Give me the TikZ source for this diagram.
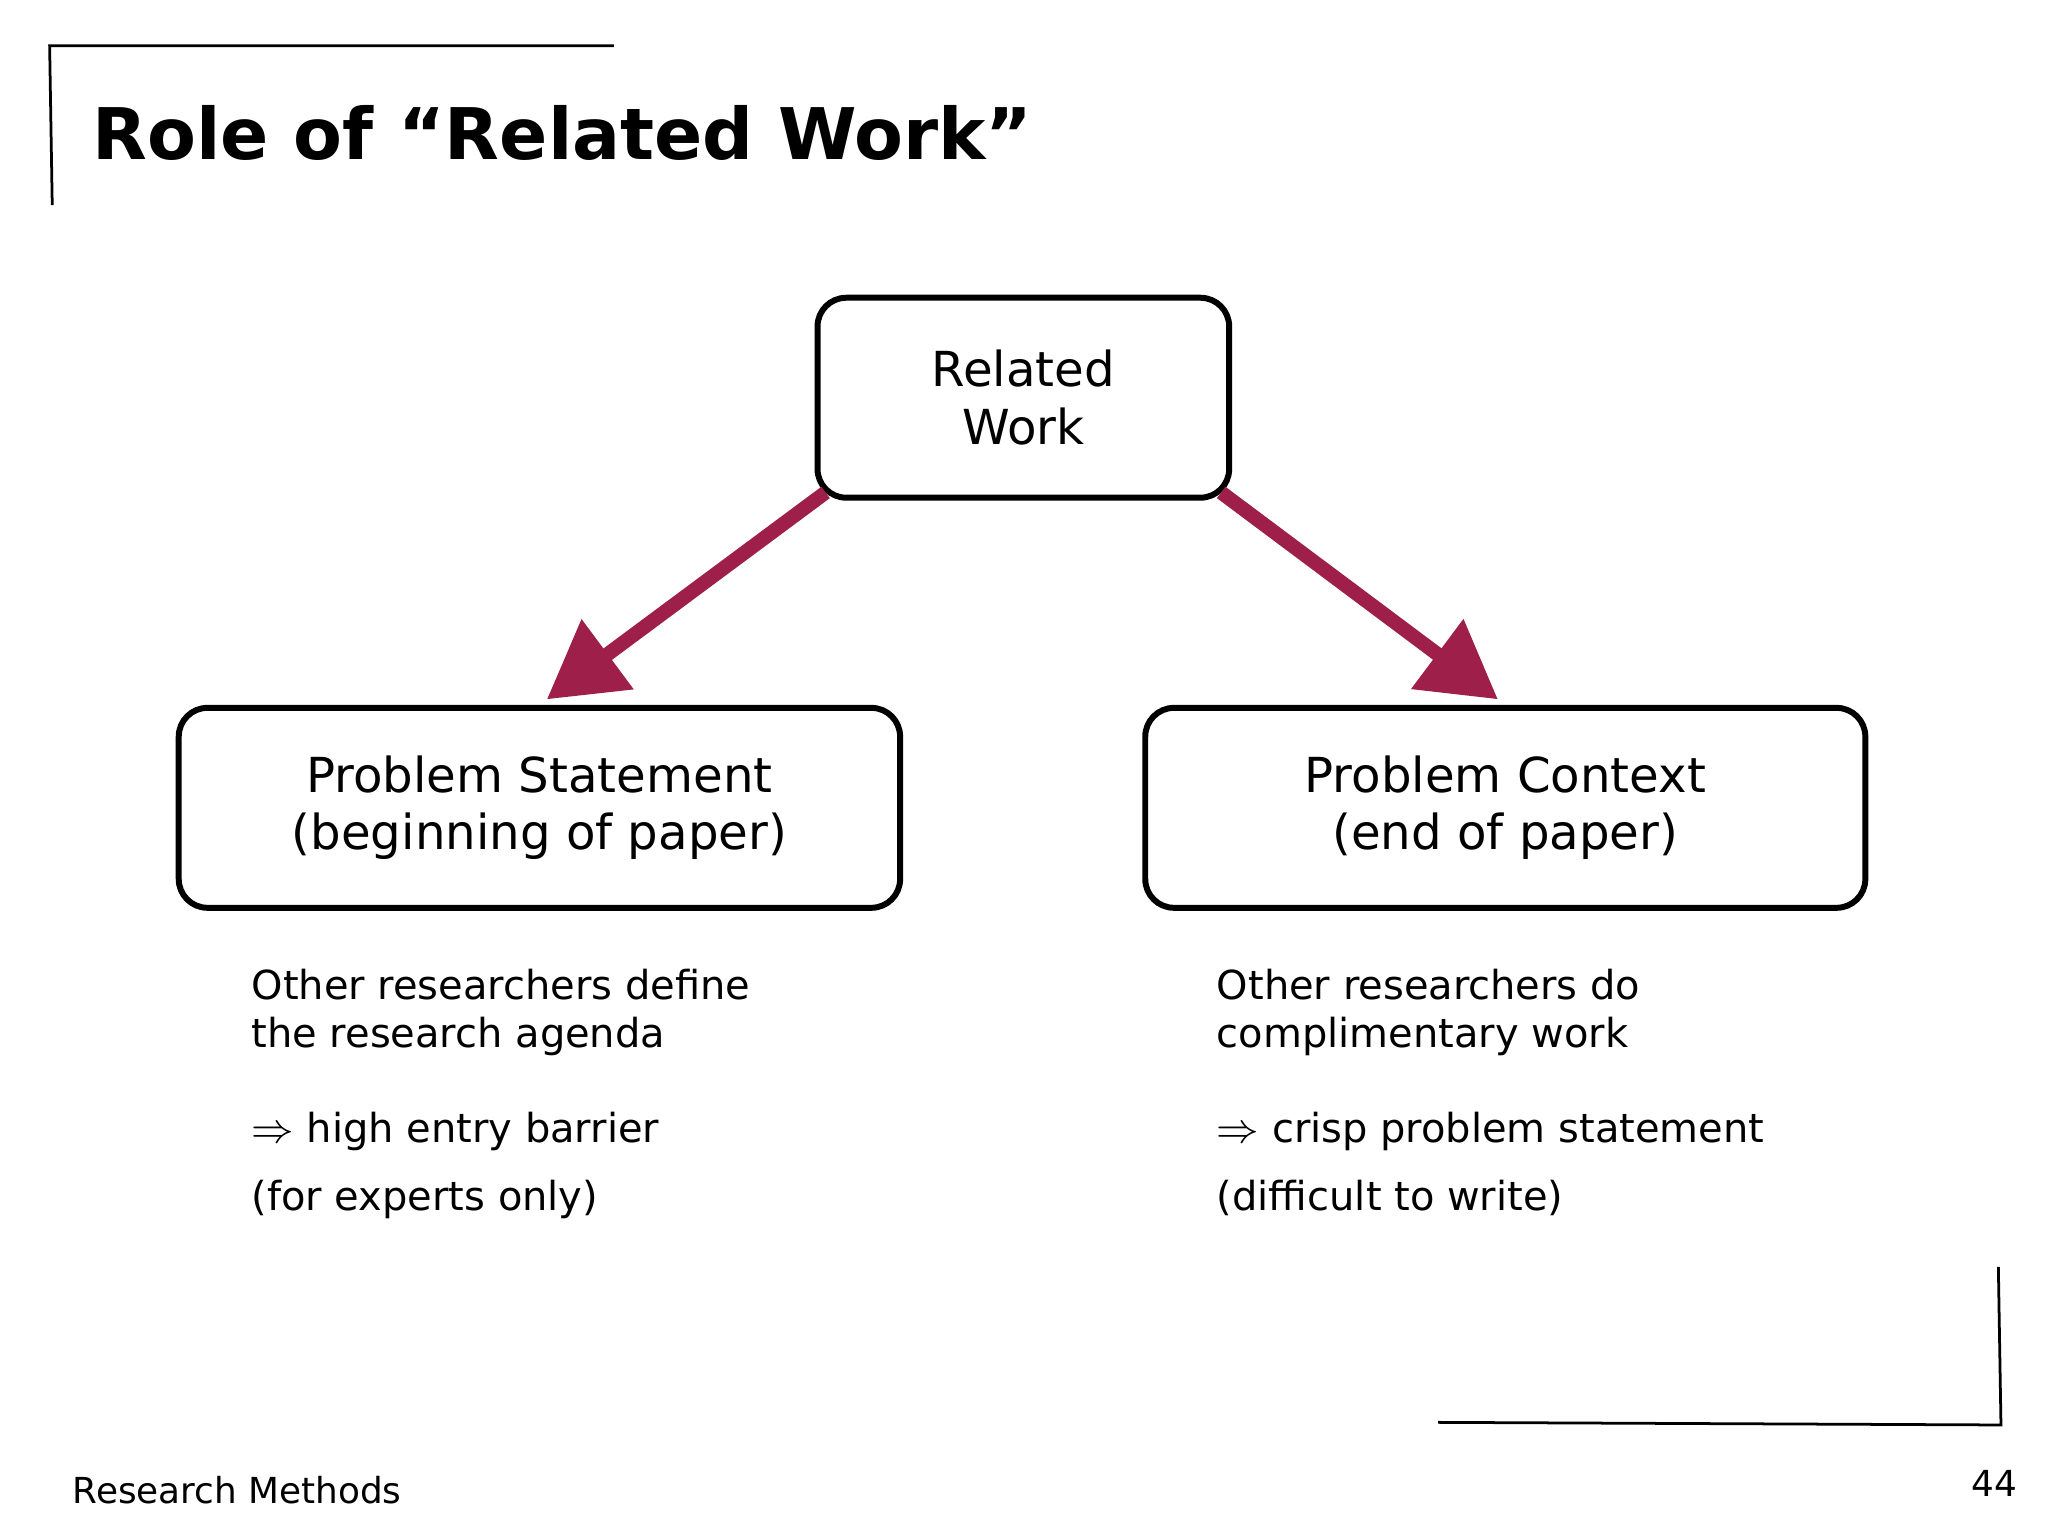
\documentclass[tikz,border=0pt]{standalone}
\usepackage{fontspec}
\setmainfont{DejaVu Sans}
\usetikzlibrary{arrows.meta}
\definecolor{rwred}{HTML}{9E1F4A}
\tikzset{
  box/.style={draw, line width=1.3pt, rounded corners=0.22cm, align=center,
    font=\fontsize{10.5}{12.5}\selectfont, inner sep=0pt},
  body/.style={anchor=base west, align=left, font=\fontsize{8.7}{10.5}\selectfont, inner sep=0pt},
  flow/.style={rwred, line width=3.1pt, -{Triangle[length=0.58cm,width=0.64cm]}}
}
\begin{document}
\begin{tikzpicture}[x=0.01cm, y=-0.01cm]
        \useasboundingbox (0,0) rectangle (1568,1176);
        % frame corners
        \draw[line width=0.6pt] (470,35) -- (38,35) -- (40,157);
        \draw[line width=0.6pt] (1101,1089) -- (1532,1091) -- (1530,970);

        \node[anchor=base west, inner sep=0pt, font=\bfseries\fontsize{15.5}{18}\selectfont] (title) at (70,122) {Role of “Related Work”};

        % boxes
        \node[box, minimum width=3.15cm, minimum height=1.53cm] (rw) at (783.5,304.5) {Related\\Work};
        \node[box, minimum width=5.52cm, minimum height=1.53cm] (ps) at (413,618.5) {Problem Statement\\(beginning of paper)};
        \node[box, minimum width=5.51cm, minimum height=1.53cm] (pc) at (1152.5,618.5) {Problem Context\\(end of paper)};

        \draw[flow, shorten >=2pt, shorten <=-3pt] (rw.south west) -- (ps.north);
        \draw[flow, shorten >=2pt, shorten <=-3pt] (rw.south east) -- (pc.north);

        % notes
        \node[body] (psa) at (192,802) {Other researchers define\\the research agenda};
        \node[body] (psb) at (192,875) {$\Rightarrow$ high entry barrier};
        \node[body] (psc) at (192,927) {(for experts only)};
        \node[body] (pca) at (931,802) {Other researchers do\\complimentary work};
        \node[body] (pcb) at (931,875) {$\Rightarrow$ crisp problem statement};
        \node[body] (pcc) at (931,927) {(difficult to write)};

        % footer
        \node[anchor=base west, inner sep=0pt, font=\fontsize{7.8}{10}\selectfont] (foot) at (55,1151) {Research Methods};
        \node[anchor=base east, inner sep=0pt, font=\fontsize{7.8}{10}\selectfont] (page) at (1545,1146) {44};
    \end{tikzpicture}
\end{document}
